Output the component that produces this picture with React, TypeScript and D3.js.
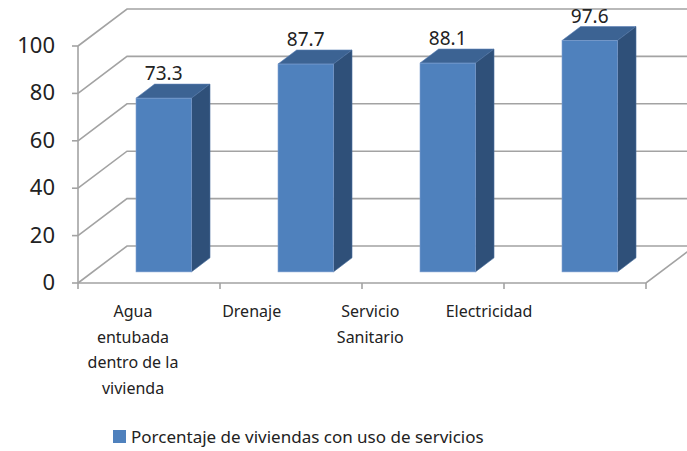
import React from 'react';
import * as d3 from 'd3';

const categories = ['Agua entubada dentro de la vivienda', 'Drenaje', 'Servicio Sanitario', 'Electricidad'];
const categoryLines = [['Agua', 'entubada', 'dentro de la', 'vivienda'], ['Drenaje'], ['Servicio', 'Sanitario'], ['Electricidad']];
const values = [73.3, 87.7, 88.1, 97.6];
const yTicks = [0, 20, 40, 60, 80, 100];
const seriesName = 'Porcentaje de viviendas con uso de servicios';

const width = 687;
const height = 451;
const DX = 49; // depth offset of the 3D box
const DY = -37;
const F0 = 0.3; // bar front depth fraction
const F1 = 0.68; // bar back depth fraction
const font = "'Noto Sans', sans-serif";
const grid = '#a3a3a3';

function App() {
  const x = d3.scaleBand<string>().domain(categories).range([78, 646]).paddingInner(0.61).paddingOuter(0.305);
  const y = d3.scaleLinear().domain([0, 100]).range([283, 46]);
  const labelX = d3.scalePoint<string>().domain(categories).range([133, 489]);

  const proj = (px: number, v: number, f: number): [number, number] => [px + f * DX, y(v) + f * DY];
  const poly = (pts: [number, number][]) => d3.line()(pts) + 'Z';

  const x0 = x.range()[0];
  const x1 = x.range()[1];
  const steps = categories.map((c) => x(c)! - (x.step() - x.bandwidth()) / 2).concat([x1]);

  return (
    <svg width={width} height={height} style={{ position: 'absolute', left: 0, top: 0, background: '#fff' }}>
      {/* side wall + back wall gridlines */}
      {yTicks.map((t) => (
        <g key={t}>
          <path d={d3.line()([proj(x0, t, 0), proj(x0, t, 1), proj(x1, t, 1)])!} fill="none" stroke={grid} strokeWidth={1.6} />
          <line x1={x0 - 6} x2={x0} y1={y(t)} y2={y(t)} stroke={grid} strokeWidth={1.6} />
          <text x={55} y={y(t) - 1} dy="0.36em" textAnchor="end" fontFamily={font} fontSize={22} fill="#222">
            {t}
          </text>
        </g>
      ))}
      {/* floor */}
      <path d={d3.line()([proj(x0, 0, 0), proj(x1, 0, 0), proj(x1, 0, 1)])!} fill="none" stroke={grid} strokeWidth={1.6} />
      <line x1={x0} x2={x0} y1={y(0)} y2={y(100)} stroke={grid} strokeWidth={1.6} />
      {steps.map((s, i) => (
        <line key={i} x1={s} x2={s} y1={y(0)} y2={y(0) + 6} stroke={grid} strokeWidth={1.6} />
      ))}

      {/* bars */}
      {categories.map((c, i) => {
        const bx0 = x(c)!;
        const bx1 = bx0 + x.bandwidth();
        const v = values[i];
        const [fx0, fyTop] = proj(bx0, v, F0);
        const [fx1, fyBot] = proj(bx1, 0, F0);
        return (
          <g key={c}>
            <path d={poly([proj(bx0, v, F0), proj(bx1, v, F0), proj(bx1, v, F1), proj(bx0, v, F1)])} fill="#3c6393" stroke="#5a80b5" strokeWidth={0.6} />
            <path d={poly([proj(bx1, v, F0), proj(bx1, v, F1), proj(bx1, 0, F1), proj(bx1, 0, F0)])} fill="#2f5079" stroke="#4a6e9e" strokeWidth={0.6} />
            <rect x={fx0} y={fyTop} width={fx1 - fx0} height={fyBot - fyTop} fill="#4f81bd" stroke="#7d9fd0" strokeWidth={0.6} />
            <text x={(fx0 + fx1) / 2} y={proj(bx0, v, F1)[1] - 4} textAnchor="middle" fontFamily={font} fontSize={19} fill="#222">
              {v}
            </text>
          </g>
        );
      })}

      {/* category labels */}
      {categories.map((c, i) => (
        <text key={c} x={labelX(c)} y={317} textAnchor="middle" fontFamily={font} fontSize={16} fill="#222">
          {categoryLines[i].map((ln, j) => (
            <tspan key={j} x={labelX(c)} dy={j === 0 ? 0 : 25.5}>
              {ln}
            </tspan>
          ))}
        </text>
      ))}

      {/* legend */}
      <rect x={113} y={430} width={13} height={13} fill="#4f81bd" />
      <text x={131} y={443} fontFamily={font} fontSize={17} fill="#222">
        {seriesName}
      </text>
    </svg>
  );
}

export default App;
